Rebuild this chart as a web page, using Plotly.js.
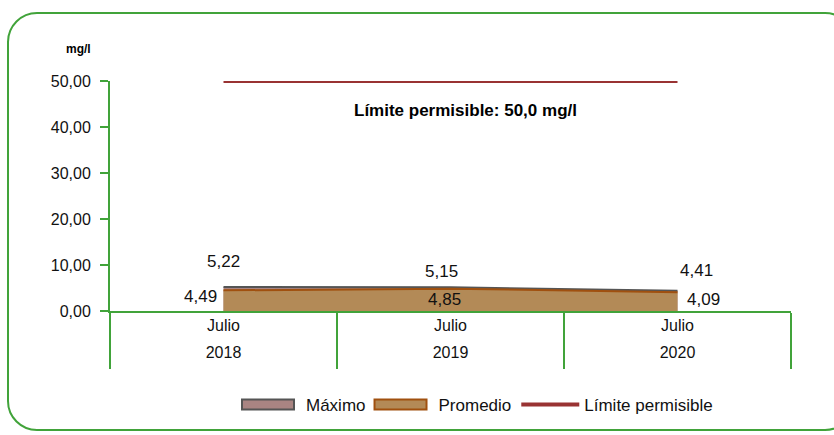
<!DOCTYPE html>
<html>
<head>
<meta charset="utf-8">
<script src="https://cdn.plot.ly/plotly-3.0.1.min.js"></script>
<style>
html,body{margin:0;padding:0;background:#fff;overflow:hidden;width:834px;height:435px;}
#wrap{position:relative;width:834px;height:435px;overflow:hidden;background:#fff;}
#frame{position:absolute;left:7px;top:12px;width:848px;height:419px;border:2px solid #41A33A;border-radius:30px;box-sizing:border-box;}
#chart{position:absolute;left:0;top:0;width:834px;height:435px;}
</style>
</head>
<body>
<div id="wrap"><div id="frame"></div><div id="chart"></div></div>
<script>
// ---- data ----
const categories = ["Julio 2018", "Julio 2019", "Julio 2020"];
const months = ["Julio", "Julio", "Julio"];
const years = ["2018", "2019", "2020"];
const maximo = [5.22, 5.15, 4.41];
const promedio = [4.49, 4.85, 4.09];
const limite = [50.0, 50.0, 50.0];
const yTicks = [0, 10, 20, 30, 40, 50];
const limitLabel = "Límite permisible: 50,0 mg/l";
const unitLabel = "mg/l";

const GREEN = "#41A33A";
const FONT = "Arial, 'Liberation Sans', sans-serif";
const fmt = v => v.toFixed(2).replace(".", ",");

const seriesStyle = [
  {fill: "#A98482", line: "#555555"},
  {fill: "#B38A57", line: "#A0500F"}
];

const traces = [
  {x: categories, y: maximo, name: "Máximo", type: "scatter", mode: "lines",
   fill: "tozeroy", fillcolor: seriesStyle[0].fill, line: {color: seriesStyle[0].line, width: 2},
   hoverinfo: "skip"},
  {x: categories, y: promedio, name: "Promedio", type: "scatter", mode: "lines",
   fill: "tozeroy", fillcolor: seriesStyle[1].fill, line: {color: seriesStyle[1].line, width: 2},
   hoverinfo: "skip"},
  {x: categories, y: limite, name: "Límite permisible", type: "scatter", mode: "lines",
   line: {color: "#993333", width: 4}, hoverinfo: "skip"},
  // carriers for the label axes
  {x: categories, y: categories.map(() => null), xaxis: "x2", showlegend: false, hoverinfo: "skip", mode: "lines"},
  {x: categories, y: categories.map(() => null), xaxis: "x3", showlegend: false, hoverinfo: "skip", mode: "lines"}
];

const maxOffsets = [[0, 25], [-9, 16], [19, 20]];
const promOffsets = [[-23, -6], [-6, -11], [26, -7]];

const L = 110, R = 43, T = 81, B = 124, W = 834, H = 435;
const pw = W - L - R, ph = H - T - B;
const px = x => (x - L) / pw, py = y => (H - B - y) / ph;

const annotations = [];
categories.forEach((c, i) => {
  annotations.push({x: c, y: maximo[i], xref: "x", yref: "y", text: fmt(maximo[i]),
    showarrow: false, xshift: maxOffsets[i][0], yshift: maxOffsets[i][1],
    font: {family: FONT, size: 17, color: "#111"}});
  annotations.push({x: c, y: promedio[i], xref: "x", yref: "y", text: fmt(promedio[i]),
    showarrow: false, xshift: promOffsets[i][0], yshift: promOffsets[i][1],
    font: {family: FONT, size: 17, color: "#111"}});
});
annotations.push({x: categories[1], y: limite[1], xref: "x", yref: "y", text: "<b>" + limitLabel + "</b>",
  showarrow: false, xshift: 15, yshift: -29, font: {family: FONT, size: 17, color: "#000"}});
annotations.push({x: px(78), y: py(49), xref: "paper", yref: "paper", xanchor: "center", yanchor: "middle",
  text: "<b>" + unitLabel + "</b>", showarrow: false, font: {family: FONT, size: 12, color: "#000"}});

const layout = {
  width: W, height: H,
  margin: {l: L, r: R, t: T, b: B, pad: 0},
  paper_bgcolor: "rgba(0,0,0,0)", plot_bgcolor: "rgba(0,0,0,0)",
  showlegend: true,
  separators: ",.",
  font: {family: FONT, size: 16, color: "#000"},
  xaxis: {type: "category", categoryarray: categories, range: [-0.5, 2.5],
    tickson: "boundaries", ticks: "outside", ticklen: 56, tickwidth: 2, tickcolor: GREEN,
    showticklabels: false, showline: true, linecolor: GREEN, linewidth: 2,
    showgrid: false, zeroline: false, fixedrange: true},
  xaxis2: {type: "category", categoryarray: categories, range: [-0.5, 2.5], overlaying: "x", anchor: "y",
    side: "bottom", tickmode: "array", tickvals: categories, ticktext: months, ticks: "",
    showline: false, showgrid: false, zeroline: false, ticklabelstandoff: 3,
    tickfont: {family: FONT, size: 16, color: "#111"}},
  xaxis3: {type: "category", categoryarray: categories, range: [-0.5, 2.5], overlaying: "x", anchor: "y",
    side: "bottom", tickmode: "array", tickvals: categories, ticktext: years, ticks: "",
    showline: false, showgrid: false, zeroline: false, ticklabelstandoff: 30,
    tickfont: {family: FONT, size: 16, color: "#111"}},
  yaxis: {range: [0, 50], tickmode: "array", tickvals: yTicks, ticktext: yTicks.map(fmt),
    ticks: "outside", ticklen: 8, tickwidth: 2, tickcolor: GREEN,
    showline: true, linecolor: GREEN, linewidth: 2, showgrid: false, zeroline: false,
    ticklabelstandoff: 6, tickfont: {family: FONT, size: 16, color: "#111"}, fixedrange: true},
  legend: {orientation: "h", x: px(478), xanchor: "center", y: py(405), yanchor: "middle",
    font: {family: FONT, size: 17, color: "#111"}, itemwidth: 58, bgcolor: "rgba(0,0,0,0)"},
  annotations: annotations
};

Plotly.newPlot("chart", traces, layout, {displayModeBar: false, staticPlot: true}).then(gd => {
  // legend swatches for the area series drawn as outlined rectangles
  const items = gd.querySelectorAll(".legend .traces");
  items.forEach((item, i) => {
    if (i >= seriesStyle.length) return;
    const fillPath = item.querySelector(".legendfill path");
    const linePath = item.querySelector(".legendlines path");
    if (fillPath) {
      fillPath.setAttribute("d", "M4,-5h52v10h-52z");
      fillPath.style.fill = seriesStyle[i].fill;
      fillPath.style.stroke = seriesStyle[i].line;
      fillPath.style.strokeWidth = "2px";
    }
    if (linePath) linePath.style.display = "none";
  });
});
</script>
</body>
</html>
